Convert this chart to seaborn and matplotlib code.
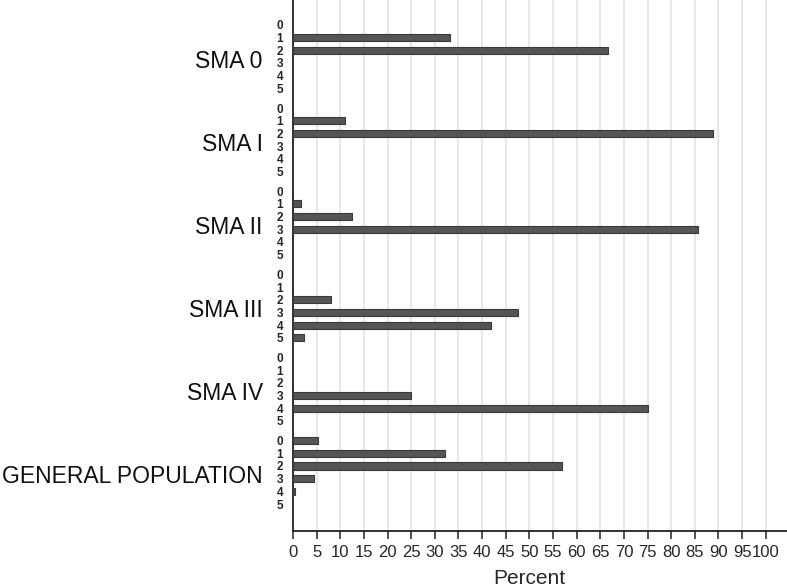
import numpy as np
import pandas as pd
import matplotlib
matplotlib.use('Agg')
import matplotlib.pyplot as plt
import matplotlib.transforms as mtransforms
import seaborn as sns

# данные: процент по уровням 0..5 в каждой группе
groups = ['SMA 0', 'SMA I', 'SMA II', 'SMA III', 'SMA IV', 'GENERAL POPULATION']
levels = ['0', '1', '2', '3', '4', '5']
sma_0 = [0, 33.3, 66.7, 0, 0, 0]
sma_1 = [0, 11.1, 88.9, 0, 0, 0]
sma_2 = [0, 1.6, 12.4, 85.6, 0, 0]
sma_3 = [0, 0, 8.1, 47.6, 41.8, 2.3]
sma_4 = [0, 0, 0, 25.0, 75.0, 0]
general = [5.3, 32.2, 57.0, 4.5, 0.5, 0]
x_ticks = list(range(0, 101, 5))

values = [sma_0, sma_1, sma_2, sma_3, sma_4, general]
group_step = 6.56

rows = []
for g, (name, vals) in enumerate(zip(groups, values)):
    for k, (lev, v) in enumerate(zip(levels, vals)):
        rows.append({'group': name, 'level': lev, 'pos': g * group_step + k, 'percent': v})
df = pd.DataFrame(rows)

sns.set_style('white')
plt.rcParams['font.family'] = ['Liberation Sans', 'DejaVu Sans']

fig = plt.figure(figsize=(7.87, 5.88), dpi=100)
ax = fig.add_axes([293 / 787, 1 - 531 / 588, 494 / 787, 531 / 588])

ax.grid(axis='x', color='#e6e6e6', linewidth=1.3, zorder=0)
ax.set_axisbelow(True)

plot_df = df[df['percent'] > 0]
sns.barplot(data=plot_df, x='percent', y='pos', orient='y', native_scale=True,
            width=0.56, color='#555555', edgecolor='#3a3a3a', linewidth=0.8,
            saturation=1, ax=ax, zorder=3)

ax.set_xlim(0, 104.5)
ax.set_ylim(39.93, -1.97)
ax.set_xticks(x_ticks)
ax.set_xticklabels([str(t) for t in x_ticks], fontsize=12)
ax.set_yticks(df['pos'])
ax.set_yticklabels(df['level'], fontsize=8.5, fontweight='bold')
ax.tick_params(axis='y', left=False, length=0, pad=7)
ax.tick_params(axis='x', bottom=True, length=6, width=1.1, direction='out',
               pad=4, color='#222222')
ax.set_ylabel('')
ax.set_xlabel('Percent', fontsize=15)
ax.xaxis.set_label_coords(0.478, -0.071)

sns.despine(ax=ax)
for s in ['left', 'bottom']:
    ax.spines[s].set_linewidth(1.3)
    ax.spines[s].set_color('#222222')

# подписи групп слева от цифр
trans = mtransforms.blended_transform_factory(ax.transAxes, ax.transData)
for g, name in enumerate(groups):
    ax.text(-0.061, g * group_step + 2.85, name, transform=trans, ha='right',
            va='center', fontsize=16.5, color='#111111')

fig.savefig('out.png', dpi=100)
